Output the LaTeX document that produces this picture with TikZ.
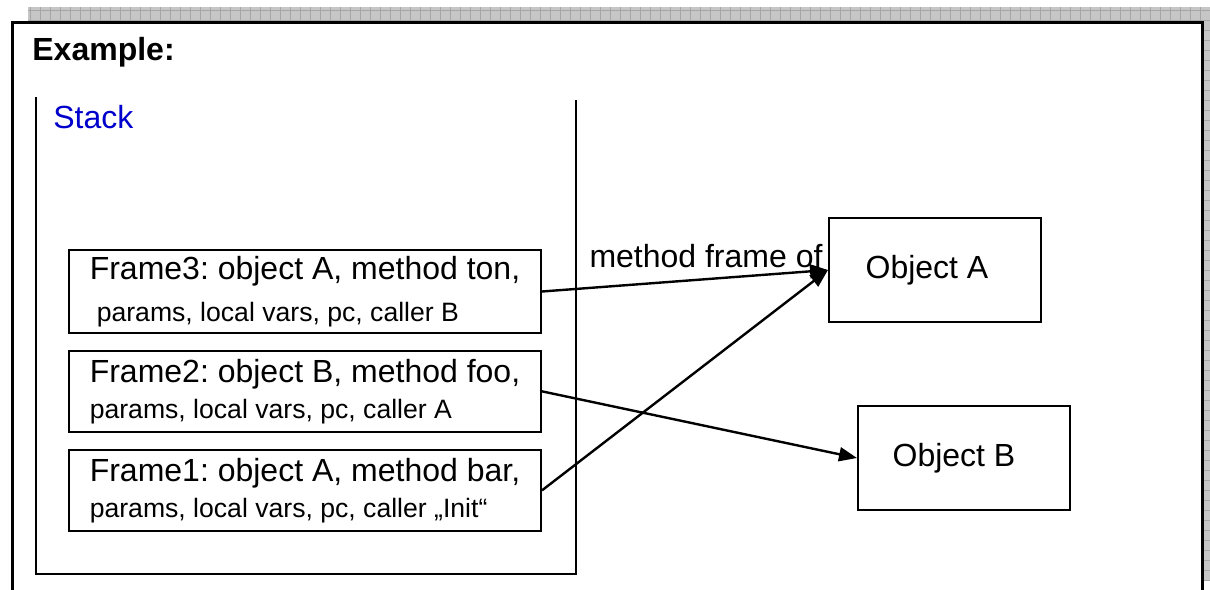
\documentclass[tikz,border=0pt]{standalone}
\usepackage{fontspec}
\setmainfont{Liberation Sans}
\usetikzlibrary{positioning,arrows.meta}
\definecolor{stackblue}{RGB}{0,0,204}
\newcommand{\subline}[1]{{\fontsize{13.3}{16}\selectfont #1}}
\frenchspacing

\begin{document}
\begin{tikzpicture}[x=0.5pt,y=-0.5pt,
    font=\fontsize{16}{19}\selectfont,
    framebox/.style={draw,line width=1pt,minimum width=236pt,minimum height=40.5pt,
        align=left,inner xsep=3pt,inner ysep=3pt},
    objbox/.style={draw,line width=1pt,minimum width=106pt,minimum height=52pt},
    link/.style={line width=1.2pt,-{Triangle[length=9pt,width=7pt]}},
    node distance=8pt]
    \useasboundingbox (0,0) rectangle (1210,589);
    \clip (0,0) rectangle (1210,589);
    % hatched margin
    \fill[gray!45] (28,7) rectangle (1210,580);
    \draw[gray!70,step=5pt,line width=0.4pt] (28,7) grid (1210,580);
    % sheet
    \filldraw[fill=white,line width=1.5pt] (12,600) -- (12,22) -- (1202,22) -- (1202,600);
    \node[anchor=west,inner sep=0pt,font=\fontsize{16}{19}\selectfont\bfseries] (title) at (32,52) {Example:};
    % stack
    \draw[line width=1.2pt] (36,97) -- (36,574) -- (576,574) -- (576,100);
    \node[anchor=west,inner sep=0pt,text=stackblue] (stack) at (53,117) {Stack};

    \node[framebox] (f3) at (305,291.5) {Frame3: object A, method ton,\\[2pt]
        \hspace*{3.5pt}\subline{params, local vars, pc, caller B}};
    \node[framebox,below=of f3] (f2) {Frame2: object B, method foo,\\[-1pt]
        \subline{params, local vars, pc, caller A}};
    \node[framebox,below=of f2] (f1) {Frame1: object A, method bar,\\[-1pt]
        \subline{params, local vars, pc, caller „Init“}};

    \node[objbox] (oa) at (935,270) {\raisebox{-1pt}{Object A}\hspace*{8pt}};
    \node[objbox] (ob) at (964,458) {\raisebox{-1pt}{Object B}\hspace*{10pt}};

    \draw[link] (f3.east) -- (oa.west);
    \draw[link] (f1.east) -- (oa.west);
    \draw[link] (f2.east) -- (ob.west);
    \node[inner sep=0pt] (lbl) at (706,256) {method frame of};
\end{tikzpicture}
\end{document}
